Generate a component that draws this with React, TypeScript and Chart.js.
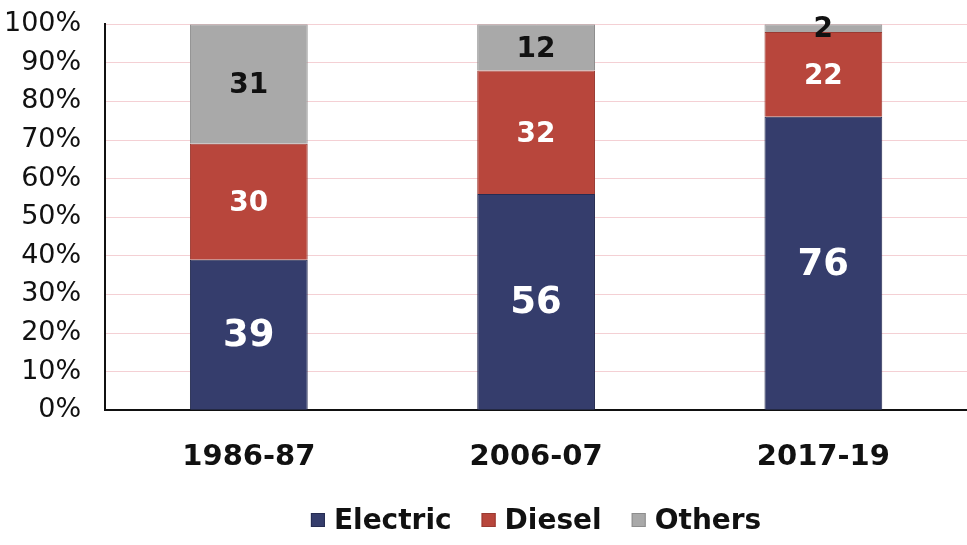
import React, { useEffect, useRef } from "react";
import { Chart, registerables } from "chart.js";

Chart.register(...registerables);

const categories = ["1986-87", "2006-07", "2017-19"];
const electric = [39, 56, 76];
const diesel = [30, 32, 22];
const others = [31, 12, 2];
const yTicks = [0, 10, 20, 30, 40, 50, 60, 70, 80, 90, 100];

const FONT = '"DejaVu Sans", Verdana, sans-serif';

const labelPlugin = {
  id: "segLabels",
  afterDatasetsDraw(chart: any) {
    const ctx = chart.ctx;
    chart.data.datasets.forEach((ds: any, di: number) => {
      const meta = chart.getDatasetMeta(di);
      meta.data.forEach((bar: any, i: number) => {
        const v = ds.data[i];
        const y = (bar.y + bar.base) / 2;
        ctx.save();
        const size = di === 0 ? 37 : 28;
        ctx.font = `bold ${size}px ${FONT}`;
        ctx.textAlign = "center";
        ctx.textBaseline = "middle";
        ctx.fillStyle = di === 2 ? "#111111" : "#ffffff";
        ctx.fillText(String(v), bar.x, y + 2);
        ctx.restore();
      });
    });
  },
};

const legendPlugin = {
  id: "customLegend",
  afterDraw(chart: any) {
    const ctx = chart.ctx;
    const ds = chart.data.datasets;
    const box = 14;
    const gap = 9;
    const spacing = 30;
    ctx.save();
    ctx.font = `bold 28px ${FONT}`;
    const widths = ds.map((d: any) => box + gap + ctx.measureText(d.label).width);
    const total = widths.reduce((a: number, b: number) => a + b, 0) + spacing * (ds.length - 1);
    let x = (chart.chartArea.left + chart.chartArea.right) / 2 - total / 2;
    const y = chart.height - 24;
    ctx.textBaseline = "middle";
    ctx.textAlign = "left";
    ds.forEach((d: any, i: number) => {
      ctx.fillStyle = d.backgroundColor;
      ctx.fillRect(x, y - box / 2 - 1, box, box);
      ctx.strokeStyle = d.borderColor;
      ctx.lineWidth = 1;
      ctx.strokeRect(x + 0.5, y - box / 2 - 0.5, box - 1, box - 1);
      ctx.fillStyle = "#111111";
      ctx.fillText(d.label, x + box + gap, y + 1);
      x += widths[i] + spacing;
    });
    ctx.restore();
  },
};

export default function App() {
  const ref = useRef<HTMLCanvasElement>(null);
  useEffect(() => {
    document.body.style.margin = "0";
    const common = { categoryPercentage: 0.82, barPercentage: 0.5 };
    const chart = new Chart(ref.current as HTMLCanvasElement, {
      type: "bar",
      data: {
        labels: categories,
        datasets: [
          { label: "Electric", data: electric, backgroundColor: "#353d6c", borderColor: "#262c52", borderWidth: 1, ...common },
          { label: "Diesel", data: diesel, backgroundColor: "#b8463c", borderColor: "#9a3a32", borderWidth: 1, ...common },
          { label: "Others", data: others, backgroundColor: "#a9a9a9", borderColor: "#8d8d8d", borderWidth: 1, ...common },
        ],
      },
      options: {
        responsive: false,
        animation: false,
        layout: { padding: { left: -20, right: 0, top: 0, bottom: 48 } },
        scales: {
          x: {
            stacked: true,
            grid: { display: false },
            border: { display: true, color: "#111111", width: 2 },
            ticks: {
              color: "#111111",
              padding: 22,
              font: { family: FONT, size: 29, weight: "bold" },
            },
          },
          y: {
            stacked: true,
            min: 0,
            max: 100,
            afterBuildTicks(axis: any) {
              axis.ticks = yTicks.map((v) => ({ value: v }));
            },
            grid: { color: "rgba(230,150,160,0.45)", drawTicks: false, lineWidth: 1 },
            border: { display: true, color: "#111111", width: 2 },
            ticks: {
              color: "#111111",
              padding: 24,
              callback: (v: any) => v + "%",
              font: { family: FONT, size: 27 },
            },
          },
        },
        plugins: {
          legend: { display: false },
          tooltip: { enabled: false },
        },
      } as any,
      plugins: [labelPlugin, legendPlugin],
    });
    return () => chart.destroy();
  }, []);
  return (
    <div style={{ position: "fixed", left: 0, top: -16, width: 967, height: 561, background: "#fff" }}>
      <canvas ref={ref} width={967} height={561} />
    </div>
  );
}
